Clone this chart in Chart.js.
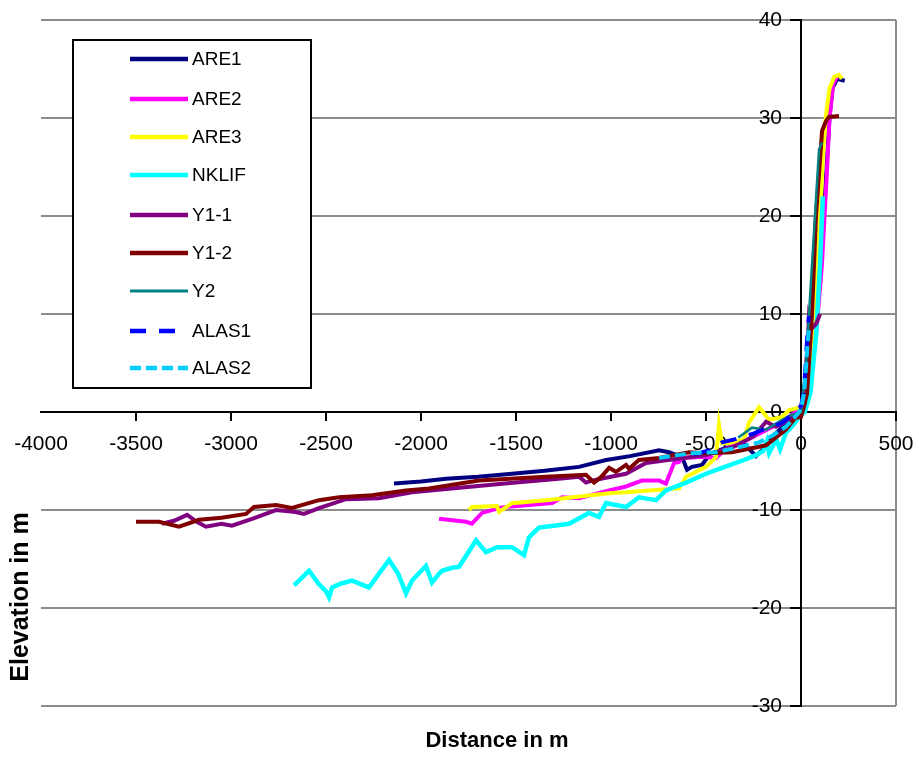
<!DOCTYPE html>
<html>
<head>
<meta charset="utf-8">
<script src="https://cdn.jsdelivr.net/npm/chart.js@4.4.0/dist/chart.umd.min.js"></script>
<style>
  html, body { margin: 0; padding: 0; background: #fff; }
  #wrap { width: 919px; height: 760px; position: relative; }
</style>
</head>
<body>
<div id="wrap"><canvas id="profileChart"></canvas></div>
<script>
// profile data (distance in m, elevation in m)
const are1X = [-2142, -2000, -1868, -1700, -1521, -1350, -1168, -1026, -900, -747, -695, -626, -600, -574, -521, -480, -400, -300, -237, -205, -150, -80, -20, 0, 40, 80, 110, 135, 150, 165, 190, 230];
const are1Y = [-7.3, -7.1, -6.8, -6.6, -6.3, -6.0, -5.6, -4.9, -4.5, -3.9, -4.1, -4.6, -5.9, -5.6, -5.4, -4.3, -3.7, -3.2, -4.5, -3.9, -2.5, -1.2, -0.3, 0, 3, 9, 17, 25, 30, 33, 34, 33.8];

const are2X = [-1905, -1763, -1732, -1679, -1589, -1553, -1432, -1310, -1258, -1168, -1010, -921, -837, -747, -711, -668, -642, -626, -537, -500, -447, -400, -300, -200, -100, -30, 0, 40, 80, 110, 135, 150, 170, 190];
const are2Y = [-10.9, -11.2, -11.4, -10.3, -9.8, -9.7, -9.5, -9.3, -8.7, -8.8, -8.0, -7.6, -7.0, -7.0, -7.3, -5.2, -5.1, -4.7, -4.6, -4.6, -4.7, -3.8, -3.0, -2.0, -1.0, 0, 0.3, 3, 8, 15, 24, 30, 33.5, 34.2];

const are3X = [-1747, -1732, -1600, -1589, -1521, -1342, -1200, -1010, -921, -800, -642, -605, -500, -447, -432, -416, -380, -300, -274, -221, -168, -100, -63, 0, 40, 70, 95, 115, 130, 150, 175, 200, 215];
const are3Y = [-10.0, -9.7, -9.6, -10.2, -9.3, -9.0, -8.7, -8.3, -8.2, -8.0, -7.8, -6.6, -5.6, -4.6, -1.3, -3.2, -3.2, -2.8, -1.1, 0.5, -0.8, -0.5, 0.2, 0.5, 4, 10, 18, 26, 30, 33, 34.2, 34.4, 34.0];

const nklifX = [-2668, -2589, -2540, -2500, -2484, -2468, -2420, -2363, -2274, -2168, -2120, -2079, -2047, -1974, -1942, -1905, -1889, -1837, -1800, -1710, -1658, -1600, -1521, -1458, -1432, -1379, -1300, -1221, -1116, -1063, -1026, -921, -853, -763, -711, -605, -500, -416, -300, -237, -200, -180, -168, -130, -110, -79, -40, -10, 20, 50, 80, 100, 115];
const nklifY = [-17.7, -16.2, -17.5, -18.3, -18.9, -17.9, -17.5, -17.2, -17.9, -15.1, -16.5, -18.5, -17.2, -15.7, -17.4, -16.5, -16.2, -15.9, -15.8, -13.1, -14.3, -13.8, -13.8, -14.6, -12.8, -11.8, -11.6, -11.4, -10.3, -10.7, -9.3, -9.7, -8.7, -9.0, -8.0, -7.2, -6.3, -5.7, -4.9, -4.4, -4.0, -3.0, -4.2, -2.8, -3.8, -2.1, -1.3, -0.5, 0, 2, 8, 15, 22];

const y11X = [-3363, -3300, -3231, -3180, -3132, -3050, -2995, -2889, -2763, -2660, -2616, -2537, -2395, -2221, -2047, -1784, -1500, -1274, -1168, -1132, -1100, -1000, -921, -816, -700, -500, -350, -250, -184, -132, -80, -30, 0, 20, 35, 42, 60, 80, 100];
const y11Y = [-11.4, -11.1, -10.5, -11.2, -11.7, -11.4, -11.6, -10.9, -10.0, -10.2, -10.4, -9.8, -8.9, -8.8, -8.2, -7.7, -7.2, -6.8, -6.6, -7.2, -7.0, -6.6, -6.3, -5.2, -4.9, -4.4, -3.5, -2.5, -1.0, -1.5, -1.0, -0.3, 0, 3, 7, 9.8, 8.6, 9.0, 10];

const y12X = [-3500, -3379, -3274, -3168, -3050, -2921, -2879, -2763, -2679, -2537, -2431, -2258, -2079, -1958, -1695, -1342, -1132, -1089, -1050, -1010, -974, -921, -905, -853, -747, -589, -500, -363, -184, -79, -30, 0, 15, 32, 58, 79, 111, 132, 147, 200];
const y12Y = [-11.2, -11.2, -11.7, -11.0, -10.8, -10.4, -9.7, -9.5, -9.8, -9.0, -8.7, -8.5, -8.0, -7.8, -7.0, -6.6, -6.4, -7.2, -6.6, -5.7, -6.1, -5.4, -5.8, -4.9, -4.7, -4.1, -4.2, -4.1, -3.4, -1.8, -0.6, -0.5, 0.5, 1.9, 10, 20, 28.7, 29.7, 30.1, 30.2];

const y2X = [-330, -258, -184, -100, -50, 0, 26, 50, 75, 95, 111];
const y2Y = [-2.6, -1.6, -1.8, -0.8, -0.3, 0, 4.6, 12.5, 20.5, 26.8, 27.5];

const alas1X = [-560, -537, -480, -432, -416, -350, -300, -250, -200, -150, -100, -60, -26, 0, 15, 25, 35, 42];
const alas1Y = [-4.3, -4.2, -3.9, -3.3, -3.1, -2.8, -2.5, -2.2, -1.8, -1.5, -1.1, -0.5, 0.2, 0.6, 2, 5, 8.5, 9.8];

const alas2X = [-747, -650, -574, -447, -350, -221, -150, -79, -40, -10, 5, 16, 26, 35, 42];
const alas2Y = [-4.7, -4.4, -4.2, -4.1, -3.7, -3.1, -2.4, -1.5, -0.7, 0, 0.8, 1.9, 4.5, 7, 8.7];

const seriesNames = ['ARE1', 'ARE2', 'ARE3', 'NKLIF', 'Y1-1', 'Y1-2', 'Y2', 'ALAS1', 'ALAS2'];
const xTicks = [-4000, -3500, -3000, -2500, -2000, -1500, -1000, -500, 0, 500];
const yTicks = [-30, -20, -10, 0, 10, 20, 30, 40];

const pts = (xs, ys) => xs.map((x, i) => ({ x: x, y: ys[i] }));

const seriesData = [
    pts(are1X, are1Y), pts(are2X, are2Y), pts(are3X, are3Y), pts(nklifX, nklifY),
    pts(y11X, y11Y), pts(y12X, y12Y), pts(y2X, y2Y), pts(alas1X, alas1Y), pts(alas2X, alas2Y)
];
const colors = ['#000080', '#FF00FF', '#FFFF00', '#00FFFF', '#800080', '#800000', '#008080', '#0000FF', '#00CCFF'];
const widths = [4, 4, 4, 4.5, 4, 4, 2.5, 4, 4];
const dashes = [[], [], [], [], [], [], [], [16, 13], [11, 5]];

const datasets = seriesNames.map((name, i) => ({
    label: name,
    data: seriesData[i],
    borderColor: colors[i],
    backgroundColor: colors[i],
    borderWidth: widths[i],
    borderDash: dashes[i],
    showLine: true,
    pointRadius: 0,
    tension: 0,
    order: seriesNames.length - i   // later series on top, like the original
}));

const gridGray = '#8c8c8c';
const labelFont = '"Liberation Sans", Arial, sans-serif';

// y tick labels sit left of the tick marks (chart.js puts them right on the axis line)
const yLabelPlugin = {
    id: 'yLabels',
    beforeDatasetsDraw(chart) {
        const ctx = chart.ctx;
        const axisX = chart.scales.x.getPixelForValue(0);
        ctx.save();
        ctx.fillStyle = '#000';
        ctx.font = '21px ' + labelFont;
        ctx.textAlign = 'right';
        ctx.textBaseline = 'middle';
        yTicks.forEach(v => {
            ctx.fillText(String(v), axisX - 19, chart.scales.y.getPixelForValue(v));
        });
        ctx.restore();
    }
};

// legend box and axis titles drawn onto the canvas
const extrasPlugin = {
    id: 'extras',
    afterDatasetsDraw(chart) {
        const ctx = chart.ctx;
        ctx.save();
        // legend
        ctx.fillStyle = '#fff';
        ctx.fillRect(73, 40, 238, 348);
        ctx.strokeStyle = '#000';
        ctx.lineWidth = 2;
        ctx.strokeRect(73, 40, 238, 348);
        const rows = [59, 99, 137, 175, 215, 253, 291, 331, 368];
        chart.data.datasets.forEach((ds, i) => {
            ctx.beginPath();
            ctx.strokeStyle = ds.borderColor;
            ctx.lineWidth = i === 6 ? 3 : 4.5;
            ctx.setLineDash(ds.borderDash || []);
            ctx.moveTo(130, rows[i]);
            ctx.lineTo(i === 7 ? 175 : 188, rows[i]);
            ctx.stroke();
            ctx.setLineDash([]);
            ctx.fillStyle = '#000';
            ctx.font = '19px ' + labelFont;
            ctx.textAlign = 'left';
            ctx.textBaseline = 'middle';
            ctx.fillText(ds.label, 192, rows[i] + 1);
        });
        // axis titles
        ctx.fillStyle = '#000';
        ctx.font = 'bold 22px ' + labelFont;
        ctx.textAlign = 'center';
        ctx.textBaseline = 'middle';
        ctx.fillText('Distance in m', 497, 741);
        ctx.translate(21, 597);
        ctx.rotate(-Math.PI / 2);
        ctx.font = 'bold 25px ' + labelFont;
        ctx.fillText('Elevation in m', 0, 0);
        ctx.restore();
    }
};

new Chart(document.getElementById('profileChart'), {
    type: 'scatter',
    data: { datasets: datasets },
    options: {
        responsive: true,
        maintainAspectRatio: false,
        animation: false,
        layout: { padding: { left: 41, top: 20, right: 23, bottom: 54 } },
        plugins: {
            legend: { display: false },
            tooltip: { enabled: false }
        },
        scales: {
            x: {
                type: 'linear',
                position: { y: 0 },
                min: -4000,
                max: 500,
                afterBuildTicks: (scale) => { scale.ticks = xTicks.map(v => ({ value: v })); },
                // edge labels fit inside the fixed layout padding
                afterFit: (scale) => { scale.paddingLeft = 0; scale.paddingRight = 0; },
                ticks: {
                    color: '#000',
                    font: { family: labelFont, size: 21 },
                    padding: 12,
                    maxRotation: 0,
                    autoSkip: false,
                    callback: (v) => String(v)
                },
                grid: {
                    color: (c) => (c.tick && c.tick.value === 500 ? gridGray : 'rgba(0,0,0,0)'),
                    tickColor: (c) => (c.tick && c.tick.value === -4000 ? 'rgba(0,0,0,0)' : '#000'),
                    lineWidth: 2,
                    tickLength: 8
                },
                border: { display: true, color: '#000', width: 2 }
            },
            y: {
                type: 'linear',
                position: { x: 0 },
                min: -30,
                max: 40,
                afterBuildTicks: (scale) => { scale.ticks = yTicks.map(v => ({ value: v })); },
                ticks: {
                    display: false
                },
                grid: {
                    color: (c) => (c.tick && c.tick.value === 0 ? 'rgba(0,0,0,0)' : gridGray),
                    tickColor: '#000',
                    lineWidth: 2,
                    tickLength: 10
                },
                border: { display: true, color: '#000', width: 2 }
            }
        }
    },
    plugins: [yLabelPlugin, extrasPlugin]
});
</script>
</body>
</html>
